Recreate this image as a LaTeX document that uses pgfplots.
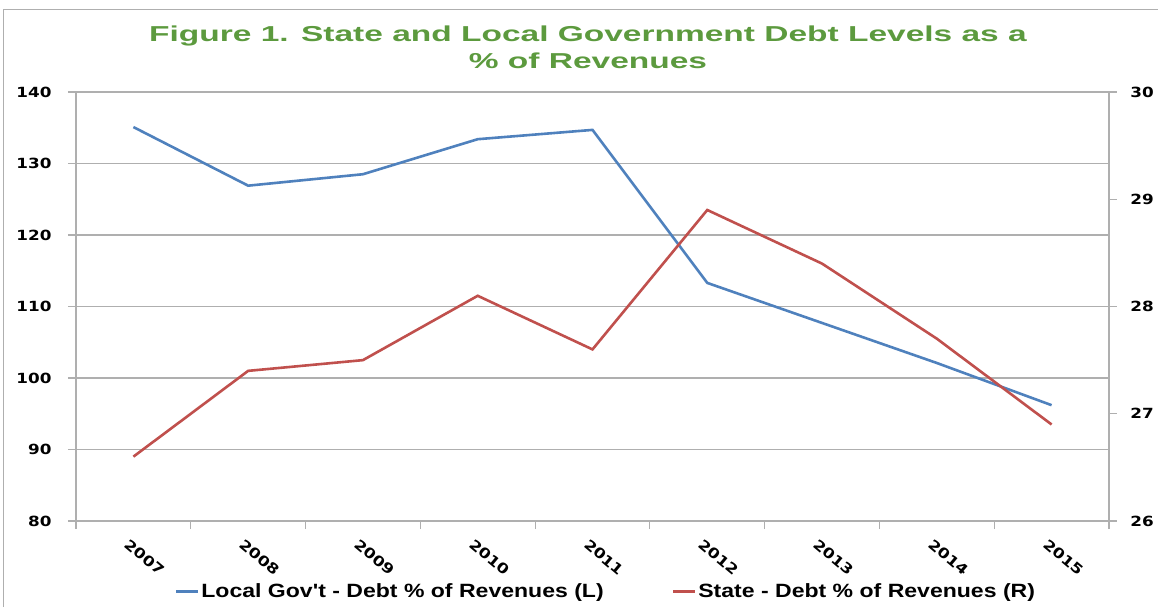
\documentclass[border=0pt]{standalone}
\usepackage{pgfplots}
\pgfplotsset{compat=1.18}
\usepackage{fontspec}
\setmainfont{Liberation Sans}
\newfontfamily\titlefont[FakeStretch=1.55]{Liberation Sans}
\newfontfamily\legfont[FakeStretch=1.2]{Liberation Sans}
\newfontfamily\tickfont[FakeStretch=1.2]{DejaVu Sans}
\definecolor{ttl}{RGB}{92,154,62}
\definecolor{lblue}{RGB}{79,129,189}
\definecolor{lred}{RGB}{192,80,77}
\definecolor{gridc}{RGB}{175,175,175}
\pgfplotstableread{
x local
0 135.1
1 126.9
2 128.5
3 133.4
4 134.7
5 113.3
6 107.7
7 102.1
8 96.2
}\localdata
\pgfplotstableread{
x state
0 26.6
1 27.4
2 27.5
3 28.1
4 27.6
5 28.9
6 28.4
7 27.7
8 26.9
}\statedata
\begin{document}
\begin{tikzpicture}
\useasboundingbox (0pt,0pt) rectangle (579pt,303.5pt);
\draw[gridc, line width=0.5pt] (1.5pt,0pt) -- (1.5pt,299pt) -- (579pt,299pt);
\node[font=\titlefont\bfseries\fontsize{10.8}{13.5}\selectfont, text=ttl, align=center] at (294pt,280pt) {Figure 1. State and Local Government Debt Levels as a\\\% of Revenues};
\begin{axis}[
  at={(38pt,43pt)}, anchor=south west, scale only axis,
  width=516.5pt, height=214.5pt,
  xmin=-0.5, xmax=8.5, ymin=80, ymax=140,
  axis y line*=left, axis x line*=bottom,
  axis line style={gridc, line width=0.6pt},
  ytick={80,90,...,140}, minor ytick={80,90,...,140},
  xtick={0,1,...,8},
  xticklabels={2007,2008,2009,2010,2011,2012,2013,2014,2015},
  minor xtick={-0.5,0.5,...,8.5},
  ymajorgrids, grid style={gridc, line width=0.6pt},
  tick align=outside, major tick length=0pt, minor tick length=4pt,
  tick style={gridc, line width=0.6pt},
  ticklabel style={font=\tickfont\bfseries\fontsize{7}{8.5}\selectfont, text=black},
  yticklabel style={xshift=-8.7pt},
  xticklabel style={rotate=-40, anchor=north west, xshift=1pt, yshift=-4pt},
  /pgf/number format/assume math mode=true,
  clip=false,
]
\addplot[lblue, line width=1.3pt] table[x=x,y=local] {\localdata};
\end{axis}
\begin{axis}[
  at={(38pt,43pt)}, anchor=south west, scale only axis,
  width=516.5pt, height=214.5pt,
  xmin=-0.5, xmax=8.5, ymin=26, ymax=30,
  axis y line*=right, axis x line=none,
  axis line style={gridc, line width=0.6pt},
  ytick={26,27,...,30}, minor ytick={26,27,...,30},
  tick align=outside, major tick length=0pt, minor tick length=4pt,
  tick style={gridc, line width=0.6pt},
  ticklabel style={font=\tickfont\bfseries\fontsize{7}{8.5}\selectfont, text=black},
  yticklabel style={xshift=7.2pt},
  /pgf/number format/assume math mode=true,
  legend columns=2,
  legend style={at={(0.513,-0.165)}, anchor=center, draw=none, fill=none,
    font=\legfont\bfseries\fontsize{9.6}{11}\selectfont,
    /tikz/every odd column/.append style={column sep=0pt},
    /tikz/every even column/.append style={column sep=33pt},
    nodes={inner xsep=1pt}},
  legend image code/.code={\draw[#1] (0pt,0pt) -- (11pt,0pt);},
]
\addlegendimage{lblue, line width=1.3pt}
\addlegendentry{Local Gov't - Debt \% of Revenues (L)}
\addplot[lred, line width=1.3pt] table[x=x,y=state] {\statedata};
\addlegendentry{State - Debt \% of Revenues (R)}
\end{axis}
\end{tikzpicture}
\end{document}
